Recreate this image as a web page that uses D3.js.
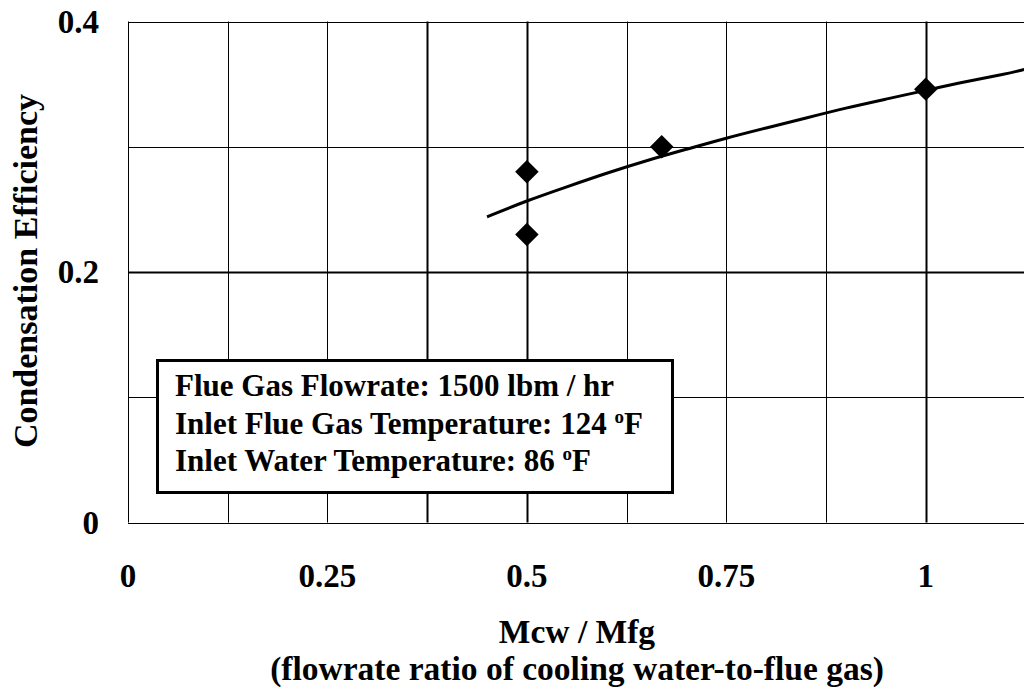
<!DOCTYPE html>
<html>
<head>
<meta charset="utf-8">
<script src="https://cdn.jsdelivr.net/npm/d3@7"></script>
<style>
  html, body { margin: 0; padding: 0; background: #fff; }
  svg { display: block; }
  text { font-family: "Liberation Serif", "Times New Roman", serif; font-weight: bold; fill: #000; }
</style>
</head>
<body>
<svg id="chart" width="1024" height="692"></svg>
<script>
// measured points
const ratioPoints = [0.5, 0.5, 0.669, 1.0];
const efficiencyPoints = [0.28, 0.23, 0.30, 0.346];

// trend curve
const trendX = [0.45, 0.5, 0.55, 0.6, 0.65, 0.7, 0.75, 0.8, 0.85, 0.9, 0.95, 1.0, 1.05, 1.1, 1.125];
const trendY = [0.244, 0.257, 0.268, 0.279, 0.289, 0.298, 0.307, 0.315, 0.323, 0.331, 0.338, 0.345, 0.352, 0.358, 0.362];

const xTicks = [0, 0.25, 0.5, 0.75, 1];
const xTickLabels = ["0", "0.25", "0.5", "0.75", "1"];
const yTicks = [0, 0.2, 0.4];
const yTickLabels = ["0", "0.2", "0.4"];
const xGrid = [0, 0.125, 0.25, 0.375, 0.5, 0.625, 0.75, 0.875, 1, 1.125];
const yGrid = [0, 0.1, 0.2, 0.3, 0.4];

const noteLines = [
  ["Flue Gas Flowrate: 1500 lbm / hr", null],
  ["Inlet Flue Gas Temperature: 124 ", "F"],
  ["Inlet Water Temperature: 86 ", "F"]
];

const svg = d3.select("#chart");
const x = d3.scaleLinear().domain([0, 1.125]).range([128, 1025.5]);
const y = d3.scaleLinear().domain([0, 0.4]).range([522.5, 21.5]);

// heavier grid lines seen in the original
const heavyX = [0.375, 0.5, 1];
const heavyY = [0.2];

const grid = svg.append("g");
grid.selectAll("line.vx")
  .data(xGrid)
  .join("line")
  .attr("class", "vx")
  .attr("x1", d => Math.round(x(d)) + 0.5)
  .attr("x2", d => Math.round(x(d)) + 0.5)
  .attr("y1", y(0.4))
  .attr("y2", y(0))
  .attr("stroke", "#000")
  .attr("stroke-width", d => heavyX.includes(d) ? 2 : 1);

grid.selectAll("line.hy")
  .data(yGrid)
  .join("line")
  .attr("class", "hy")
  .attr("x1", x(0))
  .attr("x2", 1024)
  .attr("y1", d => Math.round(y(d)) + 0.5)
  .attr("y2", d => Math.round(y(d)) + 0.5)
  .attr("stroke", "#000")
  .attr("stroke-width", d => heavyY.includes(d) ? 2 : 1);

// trend line
const line = d3.line()
  .x((d, i) => x(trendX[i]))
  .y(d => y(d))
  .curve(d3.curveBasis);

svg.append("path")
  .datum(trendY)
  .attr("d", line)
  .attr("fill", "none")
  .attr("stroke", "#000")
  .attr("stroke-width", 3);

// diamond markers
svg.append("g")
  .selectAll("path")
  .data(ratioPoints)
  .join("path")
  .attr("d", d3.symbol(d3.symbolSquare, 275))
  .attr("transform", (d, i) => `translate(${x(d)},${y(efficiencyPoints[i])}) rotate(45)`)
  .attr("fill", "#000");

// note box
const note = svg.append("g");
note.append("rect")
  .attr("x", 157.5)
  .attr("y", 360.5)
  .attr("width", 515)
  .attr("height", 132)
  .attr("fill", "#fff")
  .attr("stroke", "#000")
  .attr("stroke-width", 3);

noteLines.forEach(([txt, unit], i) => {
  const t = note.append("text")
    .attr("x", 175)
    .attr("y", 396 + i * 37.5)
    .style("font-size", "31px")
    .text(txt);
  if (unit) {
    t.append("tspan").attr("dy", -11).style("font-size", "19px").text("o");
    t.append("tspan").attr("dy", 11).text(unit);
  }
});

// tick labels
svg.append("g")
  .selectAll("text")
  .data(xTicks)
  .join("text")
  .attr("x", d => x(d))
  .attr("y", 587)
  .attr("text-anchor", "middle")
  .style("font-size", "33px")
  .text((d, i) => xTickLabels[i]);

svg.append("g")
  .selectAll("text")
  .data(yTicks)
  .join("text")
  .attr("x", 99)
  .attr("y", d => y(d) + 11)
  .attr("text-anchor", "end")
  .style("font-size", "33px")
  .text((d, i) => yTickLabels[i]);

// axis titles
svg.append("text")
  .attr("transform", "translate(37,271) rotate(-90)")
  .attr("text-anchor", "middle")
  .style("font-size", "34px")
  .text("Condensation Efficiency");

svg.append("text")
  .attr("x", 577)
  .attr("y", 643)
  .attr("text-anchor", "middle")
  .style("font-size", "33.5px")
  .text("Mcw / Mfg");

svg.append("text")
  .attr("x", 577)
  .attr("y", 680)
  .attr("text-anchor", "middle")
  .style("font-size", "33.5px")
  .text("(flowrate ratio of cooling water-to-flue gas)");
</script>
</body>
</html>
